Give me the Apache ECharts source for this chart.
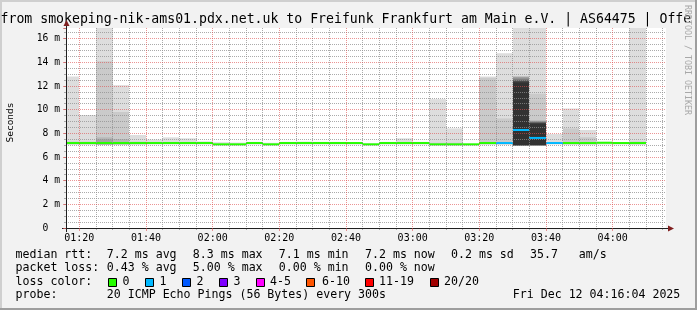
<!DOCTYPE html>
<html><head><meta charset="utf-8">
<script src="https://cdn.jsdelivr.net/npm/echarts@6/dist/echarts.min.js"></script>
<style>html,body{margin:0;padding:0;background:#f2f2f2}#c{width:697px;height:310px}</style>
</head><body><div id="c"></div>
<script>
// ---- data ----
const timeStart = '01:16';
const timeEnd = '04:16';
const stepMinutes = 5;
const stepEnd = ['01:20','01:25','01:30','01:35','01:40','01:45','01:50','01:55','02:00','02:05',
  '02:10','02:15','02:20','02:25','02:30','02:35','02:40','02:45','02:50','02:55',
  '03:00','03:05','03:10','03:15','03:20','03:25','03:30','03:35','03:40','03:45',
  '03:50','03:55','04:00','04:05','04:10','04:15','04:20'];
const medianMs = [7.18,7.18,7.18,7.18,7.18,7.18,7.18,7.18,7.18,7.07,
  7.07,7.18,7.07,7.18,7.18,7.18,7.18,7.18,7.07,7.18,
  7.18,7.18,7.07,7.07,7.07,7.18,7.18,8.28,7.61,7.18,
  7.18,7.18,7.2,7.18,7.18,null,null];
const lossCount = [0,0,0,0,0,0,0,0,0,0, 0,0,0,0,0,0,0,0,0,0, 0,0,0,0,0,0,1,1,1,1, 0,0,0,0,0,null,null];
const smokeBottom = [7.05,7.05,7.05,7.05,7.05,7.05,7.05,7.05,7.05,7.0,
  7.0,7.05,7.0,7.05,7.05,7.05,7.05,7.05,7.0,7.05,
  7.05,7.05,7.0,7.0,7.0,7.05,7.05,7.0,7.0,7.05,
  7.05,7.05,7.05,7.05,7.05,null,null];
const smokeTops = [
  [12.8,7.3],[9.55,7.3],[19,14.1,7.66,7.5],[12.07,9.8,7.52],[7.86,7.3],
  [7.47],[7.66],[7.58],[7.32],[7.25],
  [7.22],[7.28],[7.2],[7.28],[7.3],
  [7.28],[7.28],[7.25],[7.15],[7.28],
  [7.58],[7.28],[10.89,7.2],[8.42,7.2],[7.12],
  [12.8,12.7],[14.76,9.26],[19,12.85,12.8,12.75,12.7,12.6,12.5,12.45,12.4,12.3],
  [19,11.35,9.1,9.05,9.0,8.97,8.93,8.9,8.86,8.82],[7.94],
  [10.1,8.42],[8.28,7.66],[7.3],[7.25],[19,7.3],[],[]
];
const smokeGrays = ['#dddddd','#cacaca','#b7b7b7','#a4a4a4','#919191','#7e7e7e','#6b6b6b','#585858','#454545','#323232'];
const lossColors = ['#26ff00','#00b8ff','#0059ff','#7e00ff','#ff00ff','#ff5500','#ff0000','#a10000'];
const lossLabels = ['0','1','2','3','4-5','6-10','11-19','20/20'];
const xTickLabels = ['01:20','01:40','02:00','02:20','02:40','03:00','03:20','03:40','04:00'];
const yMax = 16.9;
const yMajor = 2;
const yMinor = 0.5;
const titleText = 'from smokeping-nik-ams01.pdx.net.uk to Freifunk Frankfurt am Main e.V. | AS64475 | Offe';
const legendRows = [
  [['median rtt:',16],['7.2 ms avg',107.3],['8.3 ms max',193.3],['7.1 ms min',279.3],['7.2 ms now',365.5],['0.2 ms sd',451.5],['35.7   am/s',530.5]],
  [['packet loss:',16],['0.43 % avg',107.3],['5.00 % max',193.3],['0.00 % min',279.3],['0.00 % now',365.5]],
  [['loss color:',16]],
  [['probe:',16],['20 ICMP Echo Pings (56 Bytes) every 300s',107.3],['Fri Dec 12 04:16:04 2025',513.3]]
];
const swatchX = [108.5,145.5,182.5,219.5,256.5,306.5,365.5,430.5];
const swatchLabelX = [123,160,197,234,270.5,322.5,379.5,444.5];

// ---- helpers ----
function toMin(s){ const p = String(s).split(':'); return (+p[0])*60 + (+p[1]); }
function fmt(m){ const h = Math.floor(m/60), mm = m%60; return (h<10?'0':'')+h+':'+(mm<10?'0':'')+mm; }
const t0 = toMin(timeStart), t1 = toMin(timeEnd);
const minuteCats = [];
for (let m = t0; m <= t1; m++) minuteCats.push(fmt(m));
function lossIdx(l){ if (l<=3) return l; if (l<=5) return 4; if (l<=10) return 5; if (l<=19) return 6; return 7; }
const isMajor = (i, v) => xTickLabels.indexOf(minuteCats[i]) >= 0;
const isMinor = (i, v) => toMin(minuteCats[i]) % stepMinutes === 0 && xTickLabels.indexOf(minuteCats[i]) < 0;

const MONO = 'DejaVu Sans Mono';
const gridRed = 'rgba(222,79,79,0.6)';
const gridGray = 'rgba(143,143,143,0.75)';

const smokeData = stepEnd.map((s, i) => [toMin(s), smokeBottom[i]]);
const medianData = stepEnd.map((s, i) => [toMin(s), medianMs[i], lossCount[i]]);

function clipToGrid(x0, y0, x1, y1, cs){
  return echarts.graphic.clipRectByRect(
    {x: Math.min(x0,x1), y: Math.min(y0,y1), width: Math.abs(x1-x0), height: Math.abs(y1-y0)},
    {x: cs.x, y: cs.y, width: cs.width, height: cs.height});
}

const chart = echarts.init(document.getElementById('c'), null, {renderer:'canvas'});
const graphics = [];
// frame
graphics.push({type:'rect', shape:{x:0,y:0,width:697,height:2}, style:{fill:'#cfcfcf'}, silent:true});
graphics.push({type:'rect', shape:{x:0,y:0,width:2,height:310}, style:{fill:'#cfcfcf'}, silent:true});
graphics.push({type:'rect', shape:{x:0,y:308,width:697,height:2}, style:{fill:'#9e9e9e'}, silent:true});
graphics.push({type:'rect', shape:{x:695,y:0,width:2,height:310}, style:{fill:'#9e9e9e'}, silent:true});
// title
graphics.push({type:'text', x:0.5, y:19.5, style:{text:titleText, font:'13.2px "'+MONO+'"', fill:'#000', align:'left', verticalAlign:'middle'}, silent:true});
// y name
graphics.push({type:'text', x:10.5, y:122.5, rotation:Math.PI/2, style:{text:'Seconds', font:'9.5px "'+MONO+'"', fill:'#000', align:'center', verticalAlign:'middle'}, silent:true});
// watermark
graphics.push({type:'text', x:687, y:60, rotation:-Math.PI/2, style:{text:'RRDTOOL / TOBI OETIKER', font:'8.3px "'+MONO+'"', fill:'#a8a8a8', align:'center', verticalAlign:'middle'}, silent:true});
// axis extensions + arrows
graphics.push({type:'line', shape:{x1:62,y1:228.5,x2:66,y2:228.5}, style:{stroke:'#1f1f1f',lineWidth:1}, silent:true});
graphics.push({type:'line', shape:{x1:666,y1:228.5,x2:669,y2:228.5}, style:{stroke:'#1f1f1f',lineWidth:1}, silent:true});
graphics.push({type:'line', shape:{x1:66.5,y1:228,x2:66.5,y2:232}, style:{stroke:'#1f1f1f',lineWidth:1}, silent:true});
graphics.push({type:'line', shape:{x1:66.5,y1:25,x2:66.5,y2:28}, style:{stroke:'#1f1f1f',lineWidth:1}, silent:true});
graphics.push({type:'polygon', shape:{points:[[668,225.5],[668,231.5],[674,228.5]]}, style:{fill:'#801f1f'}, silent:true});
graphics.push({type:'polygon', shape:{points:[[63.5,26],[69.5,26],[66.5,20]]}, style:{fill:'#801f1f'}, silent:true});
// legend rows
const rowY = [254.5, 268, 281.5, 295];
legendRows.forEach((row, r) => row.forEach(([t, x]) => {
  graphics.push({type:'text', x:x-0.5, y:rowY[r], style:{text:t, font:'11.6px "'+MONO+'"', fill:'#000', align:'left', verticalAlign:'middle'}, silent:true});
}));
lossLabels.forEach((lab, k) => {
  graphics.push({type:'rect', shape:{x:swatchX[k], y:278.5, width:8, height:8}, style:{fill:lossColors[k], stroke:'#000', lineWidth:1}, silent:true});
  graphics.push({type:'text', x:swatchLabelX[k]-0.5, y:rowY[2], style:{text:lab, font:'11.6px "'+MONO+'"', fill:'#000', align:'left', verticalAlign:'middle'}, silent:true});
});

const option = {
  backgroundColor:'#f2f2f2',
  animation:false,
  grid:{left:66, right:31, top:28, bottom:82, show:true, backgroundColor:'#ffffff', borderWidth:0, containLabel:false},
  xAxis:[
    {type:'category', data:minuteCats, boundaryGap:false, position:'bottom', z:10,
     axisLine:{show:true, onZero:false, lineStyle:{color:'#1f1f1f', width:1}},
     axisTick:{show:true, interval:isMajor, length:3, lineStyle:{color:gridRed}},
     axisLabel:{show:true, interval:isMajor, fontFamily:MONO, fontSize:10, color:'#000', margin:5},
     splitLine:{show:true, interval:isMajor, lineStyle:{color:gridRed, width:1, type:[1,1]}}},
    {type:'category', data:minuteCats, boundaryGap:false, position:'bottom', z:9,
     axisLine:{show:false}, axisLabel:{show:false},
     axisTick:{show:true, interval:isMinor, length:2, lineStyle:{color:gridGray}},
     splitLine:{show:true, interval:isMinor, lineStyle:{color:gridGray, width:1, type:[1,1]}}},
    {type:'value', min:t0, max:t1, show:false}
  ],
  yAxis:[
    {type:'value', min:0, max:yMax, interval:yMajor, z:10,
     axisLine:{show:true, lineStyle:{color:'#1f1f1f', width:1}},
     axisTick:{show:true, length:3, lineStyle:{color:gridRed}},
     axisLabel:{fontFamily:MONO, fontSize:9.7, color:'#000', margin:6,
       formatter:(v)=> v === 0 ? '0  ' : (Math.abs(v/yMajor - Math.round(v/yMajor)) < 1e-6 ? v + ' m' : '')},
     splitLine:{show:true, showMaxLine:false, lineStyle:{color:gridRed, width:1, type:[1,1]}}},
    {type:'value', min:0, max:yMax, interval:yMinor, position:'left', z:9,
     axisLine:{show:false}, axisLabel:{show:false},
     axisTick:{show:true, length:2, lineStyle:{color:gridGray}},
     splitLine:{show:true, showMaxLine:false, lineStyle:{color:['rgba(0,0,0,0)', gridGray, gridGray, gridGray], width:1, type:[1,1]}}}
  ],
  series:[
    {type:'custom', name:'smoke', xAxisIndex:2, yAxisIndex:0, z:2, data:smokeData,
     renderItem:(params, api) => {
       const i = params.dataIndex;
       const te = api.value(0);
       const bottom = api.value(1);
       const cs = params.coordSys;
       const children = [];
       (smokeTops[i] || []).forEach((top, k) => {
         const p0 = api.coord([te - stepMinutes, top]);
         const p1 = api.coord([te, bottom]);
         const r = clipToGrid(Math.round(p0[0]), p0[1], Math.round(p1[0]), p1[1], cs);
         if (r) children.push({type:'rect', shape:r, style:{fill:smokeGrays[k]}});
       });
       return {type:'group', children};
     }},
    {type:'custom', name:'median', xAxisIndex:2, yAxisIndex:0, z:3, data:medianData,
     renderItem:(params, api) => {
       const te = api.value(0);
       const med = api.value(1);
       const loss = api.value(2);
       if (med == null || isNaN(med)) return null;
       const cs = params.coordSys;
       const p0 = api.coord([te - stepMinutes, med]);
       const p1 = api.coord([te, med]);
       const r = clipToGrid(Math.round(p0[0]), p0[1]-1, Math.round(p1[0]), p0[1]+1, cs);
       if (!r) return null;
       return {type:'rect', shape:r, style:{fill:lossColors[lossIdx(loss)]}};
     }}
  ],
  graphic:graphics
};
chart.setOption(option);
</script></body></html>
